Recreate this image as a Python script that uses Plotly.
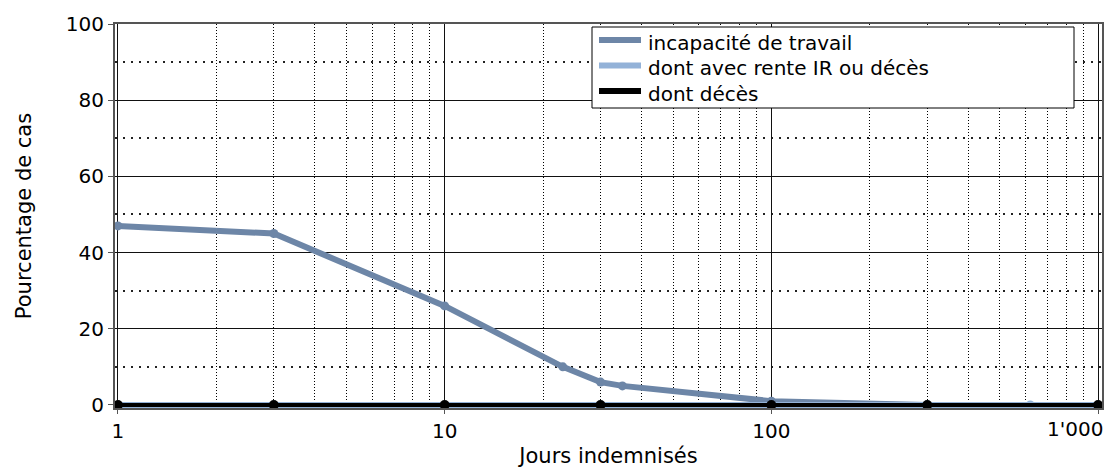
import plotly.graph_objects as go

# Data
jours_incap = [1, 3, 10, 23, 30, 35, 100, 300]
pct_incap = [47, 45, 26, 10, 6, 5, 1, 0]

jours_rente = [1, 3, 10, 30, 100, 300, 620, 1000]
pct_rente = [0, 0, 0, 0, 0, 0, 0, 0]

jours_deces = [1, 3, 10, 30, 100, 300, 1000]
pct_deces = [0, 0, 0, 0, 0, 0, 0]

x_tickvals = [1, 10, 100, 1000]
x_ticktext = ["1", "10", "100", ""]
last_tick_label = "1'000"
y_tickvals = [0, 20, 40, 60, 80, 100]

names = ["incapacité de travail", "dont avec rente IR ou décès", "dont décès"]
colors = ["#6d86a7", "#93b2d8", "#000000"]

minor_x = [m * d for d in (1, 10, 100) for m in range(2, 10)]
minor_y = [10, 30, 50, 70, 90]

series = [
    (jours_incap, pct_incap, 6, 9),
    (jours_rente, pct_rente, 6, 9),
    (jours_deces, pct_deces, 4, 10),
]

# plot area in pixels (for placing the legend box)
W, H = 1107, 468
L, R, T, B = 115, 5, 24, 60
PW, PH = W - L - R, H - T - B

def px_x(p):
    return (p - L) / PW

def px_y(p):
    return (H - B - p) / PH

fig = go.Figure()
for (xs, ys, lw, ms), name, col in zip(series, names, colors):
    fig.add_trace(go.Scatter(x=xs, y=ys, name=name, mode="lines+markers",
                             line=dict(color=col, width=lw),
                             marker=dict(size=ms, color=col), showlegend=False))

# legend box
fig.add_shape(type="rect", xref="paper", yref="paper",
              x0=px_x(592), x1=px_x(1074), y0=px_y(108), y1=px_y(27),
              fillcolor="white", line=dict(color="black", width=1), layer="above")
row_y = [40, 65.5, 91]
for name, col, ry in zip(names, colors, row_y):
    fig.add_shape(type="line", xref="paper", yref="paper",
                  x0=px_x(599), x1=px_x(641), y0=px_y(ry), y1=px_y(ry),
                  line=dict(color=col, width=6), layer="above")
    fig.add_annotation(text=name, xref="paper", yref="paper",
                       x=px_x(646), y=px_y(ry + 3), xanchor="left", yanchor="middle",
                       showarrow=False, font=dict(size=20, color="black"))

# last x tick label, kept inside the page (right-aligned like the reference)
fig.add_annotation(text=last_tick_label, xref="paper", yref="paper",
                   x=px_x(1105), y=px_y(429), xanchor="right", yanchor="middle",
                   showarrow=False, font=dict(size=20, color="black"))

fig.update_layout(
    width=W, height=H,
    margin=dict(l=L, r=R, t=T, b=B),
    paper_bgcolor="white", plot_bgcolor="white",
    font=dict(family="DejaVu Sans", color="black", size=20),
    showlegend=False,
)
fig.update_xaxes(
    type="log", range=[-0.009, 3.012],
    tickvals=x_tickvals, ticktext=x_ticktext,
    showgrid=True, gridcolor="#111", gridwidth=1,
    minor=dict(tickvals=minor_x, showgrid=True, griddash="1px,2px", gridcolor="#000", gridwidth=1),
    showline=True, linecolor="#555", linewidth=2, mirror=True,
    ticks="outside", ticklen=4, tickcolor="#555",
    tickfont=dict(size=20),
    title=dict(text="Jours indemnisés", font=dict(size=21), standoff=12),
    zeroline=False, automargin=False,
)
fig.update_yaxes(
    range=[-0.8, 100],
    tickvals=y_tickvals,
    showgrid=True, gridcolor="#111", gridwidth=1,
    minor=dict(tickvals=minor_y, showgrid=True, griddash="1.5px,6.5px", gridcolor="#222", gridwidth=1.5),
    showline=True, linecolor="#555", linewidth=2, mirror=True,
    ticks="outside", ticklen=5, tickcolor="#555",
    tickfont=dict(size=20),
    title=dict(text="Pourcentage de cas", font=dict(size=21), standoff=28),
    zeroline=False, automargin=False,
)

fig.write_html("out.html", config={"displayModeBar": False},
               post_script="document.body.style.margin='0';")
